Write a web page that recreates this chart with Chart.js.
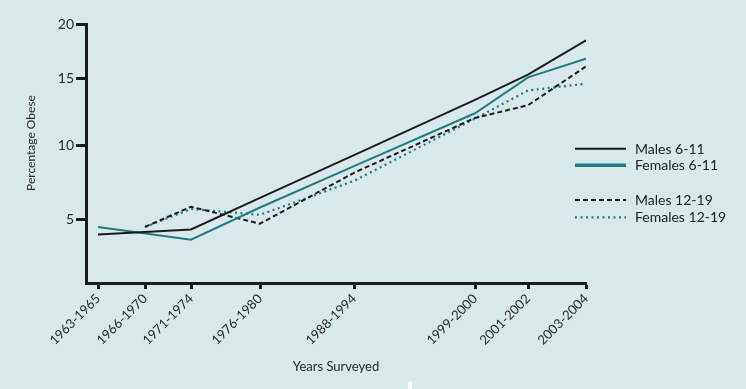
<!DOCTYPE html>
<html>
<head>
<meta charset="utf-8">
<title>Percentage Obese by Years Surveyed</title>
<script src="https://cdn.jsdelivr.net/npm/chart.js@4.4.1/dist/chart.umd.min.js"></script>
<style>
    html, body { margin: 0; padding: 0; background: #d9e8ea; }
    #wrap { width: 746px; height: 389px; position: relative; }
</style>
</head>
<body>
<div id="wrap"><canvas id="obesityChart"></canvas></div>
<script>
// Survey periods and where each one sits along the (unevenly spaced) time axis
const periods = ['1963-1965', '1966-1970', '1971-1974', '1976-1980', '1988-1994', '1999-2000', '2001-2002', '2003-2004'];
const surveyPos = [12, 59, 105, 174, 268, 389, 442, 500];

// Percentage obese (null = not surveyed)
const males611 = [3.8, null, 4.2, 6.45, 9.35, 13.4, 15.35, 18.5];
const females611 = [4.4, null, 3.4, 5.8, 8.6, 12.4, 15.1, 16.8];
const males1219 = [null, 4.4, 5.85, 4.65, 8.15, 12.05, 13.0, 16.1];
const females1219 = [null, 4.4, 5.7, 5.3, 7.6, 12.0, 14.1, 14.6];

const yTicks = [5, 10, 15, 20];

const INK = '#1c1c1c';
const TEAL = '#1f7d84';
const BG = '#d9e8ea';
const TEXT = '#2a2a2a';
const FONT = 'Lato, "Open Sans", sans-serif';

// The printed y axis is not evenly spaced, so the scale maps values piece by piece
const yKnots = [0, 5, 10, 15, 20];
const yFrac = [0, 0.246, 0.531, 0.79, 1];

class UnevenScale extends Chart.LinearScale {
    static id = 'uneven';
    static defaults = Chart.LinearScale.defaults;

    getPixelForValue(value) {
        if (value === null || isNaN(value)) return NaN;
        let i = 1;
        while (i < yKnots.length - 1 && value > yKnots[i]) i++;
        const t = (value - yKnots[i - 1]) / (yKnots[i] - yKnots[i - 1]);
        return this.getPixelForDecimal(yFrac[i - 1] + t * (yFrac[i] - yFrac[i - 1]));
    }

    getValueForPixel(pixel) {
        const d = this.getDecimalForPixel(pixel);
        let i = 1;
        while (i < yFrac.length - 1 && d > yFrac[i]) i++;
        const t = (d - yFrac[i - 1]) / (yFrac[i] - yFrac[i - 1]);
        return yKnots[i - 1] + t * (yKnots[i] - yKnots[i - 1]);
    }
}
Chart.register(UnevenScale);

function toPoints(values) {
    return values.map((v, i) => ({ x: surveyPos[i], y: v }));
}

const series = [
    { label: 'Males 6-11', data: males611, color: INK, width: 2, dash: [], legendWidth: 2 },
    { label: 'Females 6-11', data: females611, color: TEAL, width: 2, dash: [], legendWidth: 3.5 },
    { label: 'Males 12-19', data: males1219, color: INK, width: 2, dash: [5, 3], legendWidth: 2 },
    { label: 'Females 12-19', data: females1219, color: TEAL, width: 2.2, dash: [2, 3.5], legendWidth: 2.2 }
];

/**
 * Paints the backdrop, the y title (set a little above centre, as printed)
 * and the hand-placed legend (two groups with a gap).
 */
const backdropAndLegend = {
    id: 'backdropAndLegend',
    beforeDraw(chart) {
        const ctx = chart.ctx;
        ctx.save();
        ctx.fillStyle = BG;
        ctx.fillRect(0, 0, chart.width, chart.height);
        ctx.restore();
    },
    afterDraw(chart) {
        const ctx = chart.ctx;
        ctx.save();

        ctx.translate(31, 143);
        ctx.rotate(-Math.PI / 2);
        ctx.fillStyle = TEXT;
        ctx.font = '12px ' + FONT;
        ctx.textAlign = 'center';
        ctx.textBaseline = 'middle';
        ctx.fillText('Percentage Obese', 0, 0);
        ctx.setTransform(1, 0, 0, 1, 0, 0);

        const rows = [148.7, 165.3, 200, 217.3];
        series.forEach((s, i) => {
            ctx.beginPath();
            ctx.strokeStyle = s.color;
            ctx.lineWidth = s.legendWidth;
            ctx.setLineDash(s.dash);
            ctx.moveTo(575, rows[i]);
            ctx.lineTo(626, rows[i]);
            ctx.stroke();
            ctx.setLineDash([]);
            ctx.fillStyle = '#222';
            ctx.font = '14px ' + FONT;
            ctx.textAlign = 'left';
            ctx.textBaseline = 'middle';
            ctx.fillText(s.label, 635, rows[i] + 0.5);
        });

        // small white scrap at the bottom edge of the scan
        ctx.fillStyle = '#ffffff';
        ctx.fillRect(408, 382, 4, 7);
        ctx.restore();
    }
};

new Chart(document.getElementById('obesityChart'), {
    type: 'line',
    data: {
        datasets: series.map(s => ({
            label: s.label,
            data: toPoints(s.data),
            borderColor: s.color,
            borderWidth: s.width,
            borderDash: s.dash,
            pointRadius: 0,
            tension: 0,
            spanGaps: true,
            fill: false
        }))
    },
    options: {
        responsive: true,
        maintainAspectRatio: false,
        animation: false,
        layout: { padding: { left: 0, right: 160, top: 24, bottom: 0 } },
        plugins: {
            legend: { display: false },
            tooltip: { enabled: false }
        },
        scales: {
            x: {
                type: 'linear',
                min: 0,
                max: 500,
                afterBuildTicks: scale => { scale.ticks = surveyPos.map(v => ({ value: v })); },
                afterFit: scale => { scale.height = 106; },
                border: { display: true, color: INK, width: 3 },
                grid: { drawOnChartArea: false, tickLength: 6, tickWidth: 3, tickColor: INK },
                ticks: {
                    autoSkip: false,
                    minRotation: 45,
                    maxRotation: 45,
                    padding: 2,
                    color: TEXT,
                    font: { family: FONT, size: 13 },
                    callback: (value, index) => periods[index]
                },
                title: {
                    display: true,
                    text: 'Years Surveyed',
                    color: TEXT,
                    font: { family: FONT, size: 13 },
                    padding: { top: 0, bottom: 14 }
                }
            },
            y: {
                type: 'uneven',
                min: 0,
                max: 20,
                afterBuildTicks: scale => { scale.ticks = yTicks.map(v => ({ value: v })); },
                afterFit: scale => { scale.width = 86; },
                border: { display: true, color: INK, width: 3 },
                grid: { drawOnChartArea: false, tickLength: 10, tickWidth: 3, tickColor: INK },
                ticks: {
                    padding: 2,
                    color: TEXT,
                    font: { family: FONT, size: 14 }
                }
            }
        }
    },
    plugins: [backdropAndLegend]
});
</script>
</body>
</html>
